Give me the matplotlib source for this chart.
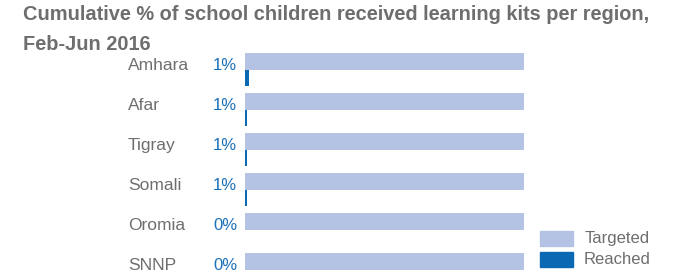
import matplotlib
matplotlib.use("Agg")
import matplotlib.pyplot as plt
from matplotlib.patches import Rectangle

regions = ["Amhara", "Afar", "Tigray", "Somali", "Oromia", "SNNP"]
targeted = [100, 100, 100, 100, 100, 100]
reached = [1.4, 0.7, 0.7, 0.8, 0.15, 0.1]

C_TARGET = "#b4c3e3"
C_REACH = "#0b68b3"
C_GRAY = "#6e6e6e"
C_BLUE = "#1b6fb8"

plt.rcParams["font.family"] = ["Liberation Sans", "DejaVu Sans"]

W, H = 675, 273
fig = plt.figure(figsize=(W / 100, H / 100), dpi=100)

# axes placement in pixels
x0, x1 = 245, 524
y_top, y_bot = 50, 273
ax = fig.add_axes([x0 / W, 0, (x1 - x0) / W, (y_bot - y_top) / H])
ax.set_xlim(0, 100)
ax.set_ylim(5.075, -0.5)
ax.axis("off")

ypos = list(range(len(regions)))
ax.barh([y - 0.43 for y in ypos], targeted, height=0.43, align="edge",
        color=C_TARGET, edgecolor="none")
ax.barh(ypos, reached, height=0.40, align="edge",
        color=C_REACH, edgecolor="none")

for y, name, r in zip(ypos, regions, reached):
    ax.text(-117 / 279 * 100, y - 0.01, name, ha="left", va="baseline",
            fontsize=12.5, color=C_GRAY, clip_on=False)
    ax.text(-8 / 279 * 100, y - 0.01, f"{round(r):.0f}%", ha="right", va="baseline",
            fontsize=12, color=C_BLUE, clip_on=False)

# title
fig.text(23 / W, 1 - 20.5 / H, "Cumulative % of school children received learning kits per region,",
         ha="left", va="baseline", fontsize=14.4, fontweight="bold", color=C_GRAY)
fig.text(23 / W, 1 - 50.5 / H, "Feb-Jun 2016",
         ha="left", va="baseline", fontsize=14.4, fontweight="bold", color=C_GRAY)

# legend
for (label, col, py) in [("Targeted", C_TARGET, 231), ("Reached", C_REACH, 252)]:
    fig.patches.append(Rectangle((540 / W, 1 - (py + 15) / H), 33 / W, 15 / H,
                                 transform=fig.transFigure, color=col, zorder=3))
    fig.text(617 / W, 1 - (py + 7) / H, label, ha="center", va="center",
             fontsize=12, color=C_GRAY)

fig.savefig("out.png", dpi=100)
